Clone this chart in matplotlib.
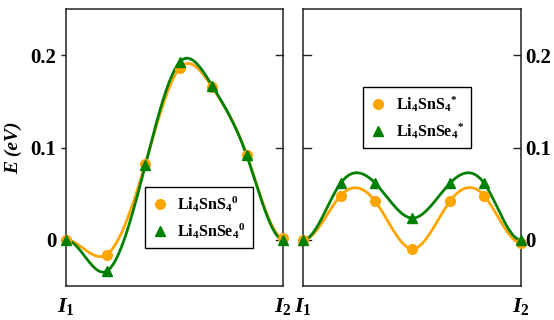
import numpy as np
import matplotlib
matplotlib.use("Agg")
import matplotlib.pyplot as plt

plt.rcParams['font.family'] = ['Liberation Serif', 'DejaVu Serif']
plt.rcParams['font.weight'] = 'bold'
plt.rcParams['mathtext.fontset'] = 'custom'
plt.rcParams['mathtext.rm'] = 'Liberation Serif:bold'
plt.rcParams['mathtext.it'] = 'Liberation Serif:bold:italic'
plt.rcParams['mathtext.bf'] = 'Liberation Serif:bold'

# image positions along the path (fraction I1 -> I2)
x_left = [0.0, 0.187, 0.365, 0.525, 0.672, 0.831, 1.0]
s_left = [0.0, -0.0159, 0.0825, 0.1866, 0.1656, 0.0922, 0.002]
se_left = [0.0, -0.034, 0.081, 0.193, 0.167, 0.0915, 0.0]

x_right = [0.0, 0.172, 0.330, 0.502, 0.675, 0.831, 1.0]
s_right = [0.0, 0.048, 0.042, -0.0098, 0.042, 0.048, -0.003]
se_right = [0.0, 0.0615, 0.0615, 0.0235, 0.0615, 0.0615, 0.0]

yticks = [0, 0.1, 0.2]
ytick_labels = ['0', '0.1', '0.2']
xtick_labels = [r'$I_{\mathit{1}}$', r'$I_{\mathit{2}}$']

ORANGE = '#FFA500'
GREEN = '#008000'
SPINE = '#222222'


def spline(x, y, n=300):
    # clamped cubic spline (flat at both end images)
    x = np.asarray(x, float)
    y = np.asarray(y, float)
    k = len(x)
    h = np.diff(x)
    A = np.zeros((k, k))
    b = np.zeros(k)
    A[0, 0], A[0, 1] = 2 * h[0], h[0]
    b[0] = 6 * ((y[1] - y[0]) / h[0])
    A[-1, -2], A[-1, -1] = h[-1], 2 * h[-1]
    b[-1] = 6 * (0 - (y[-1] - y[-2]) / h[-1])
    for i in range(1, k - 1):
        A[i, i - 1] = h[i - 1]
        A[i, i] = 2 * (h[i - 1] + h[i])
        A[i, i + 1] = h[i]
        b[i] = 6 * ((y[i + 1] - y[i]) / h[i] - (y[i] - y[i - 1]) / h[i - 1])
    M = np.linalg.solve(A, b)
    xs = np.linspace(x[0], x[-1], n)
    idx = np.clip(np.searchsorted(x, xs) - 1, 0, k - 2)
    x0, x1 = x[idx], x[idx + 1]
    hh = x1 - x0
    t0, t1 = x1 - xs, xs - x0
    ys = (M[idx] * t0 ** 3 + M[idx + 1] * t1 ** 3) / (6 * hh) \
        + (y[idx] / hh - M[idx] * hh / 6) * t0 \
        + (y[idx + 1] / hh - M[idx + 1] * hh / 6) * t1
    return xs, ys


fig = plt.figure(figsize=(5.54, 3.2), dpi=100)
ax1 = fig.add_axes([0.1191, 0.10625, 0.3925, 0.8656])
ax2 = fig.add_axes([0.5475, 0.10625, 0.3925, 0.8656])


def draw(ax, x, s, se, lab_s, lab_se, anchor):
    xs, ys = spline(x, s)
    ax.plot(xs, ys, color=ORANGE, lw=2, clip_on=False)
    xs, ys = spline(x, se)
    ax.plot(xs, ys, color=GREEN, lw=2, clip_on=False)
    ax.plot(x, s, 'o', color=ORANGE, ms=7, clip_on=False, zorder=3, label=lab_s)
    ax.plot(x, se, '^', color=GREEN, ms=7, clip_on=False, zorder=4, label=lab_se)
    ax.set_xlim(0, 1)
    ax.set_ylim(-0.05, 0.25)
    ax.set_yticks(yticks)
    ax.set_yticklabels(ytick_labels)
    ax.set_xticks([0, 1])
    ax.set_xticklabels(xtick_labels, fontsize=16)
    ax.tick_params(axis='x', length=0, pad=7)
    for sp in ax.spines.values():
        sp.set_linewidth(1.1)
        sp.set_color(SPINE)
    leg = ax.legend(loc='lower left', bbox_to_anchor=anchor, borderaxespad=0,
                    fancybox=False, framealpha=1, edgecolor='black',
                    fontsize=11.5, handlelength=1.0, handletextpad=0.6,
                    markerscale=1.0, borderpad=0.45, labelspacing=0.45)
    leg.get_frame().set_linewidth(1.0)


draw(ax1, x_left, s_left, se_left,
     r'Li$_4$SnS$_4{}^{0}$', r'Li$_4$SnSe$_4{}^{0}$', (0.362, 0.137))
draw(ax2, x_right, s_right, se_right,
     r'Li$_4$SnS$_4{}^{*}$', r'Li$_4$SnSe$_4{}^{*}$', (0.275, 0.498))

ax1.yaxis.set_ticks_position('left')
ax1.tick_params(axis='y', direction='out', labelsize=15, length=3.5, width=1, color=SPINE)

# inner ticks on the two middle spines
for y in yticks:
    ax1.plot([1, 0.965], [y, y], color=SPINE, lw=1, transform=ax1.get_yaxis_transform(), clip_on=False)
    ax2.plot([0, 0.035], [y, y], color=SPINE, lw=1, transform=ax2.get_yaxis_transform(), clip_on=False)

ax2.yaxis.set_ticks_position('right')
ax2.tick_params(axis='y', direction='in', labelsize=15, length=6, width=1,
                labelright=True, pad=3, color=SPINE)

ax1.set_ylabel('E (eV)', fontsize=14, fontstyle='italic', fontweight='bold', labelpad=6)

fig.savefig('out.png', dpi=100)
